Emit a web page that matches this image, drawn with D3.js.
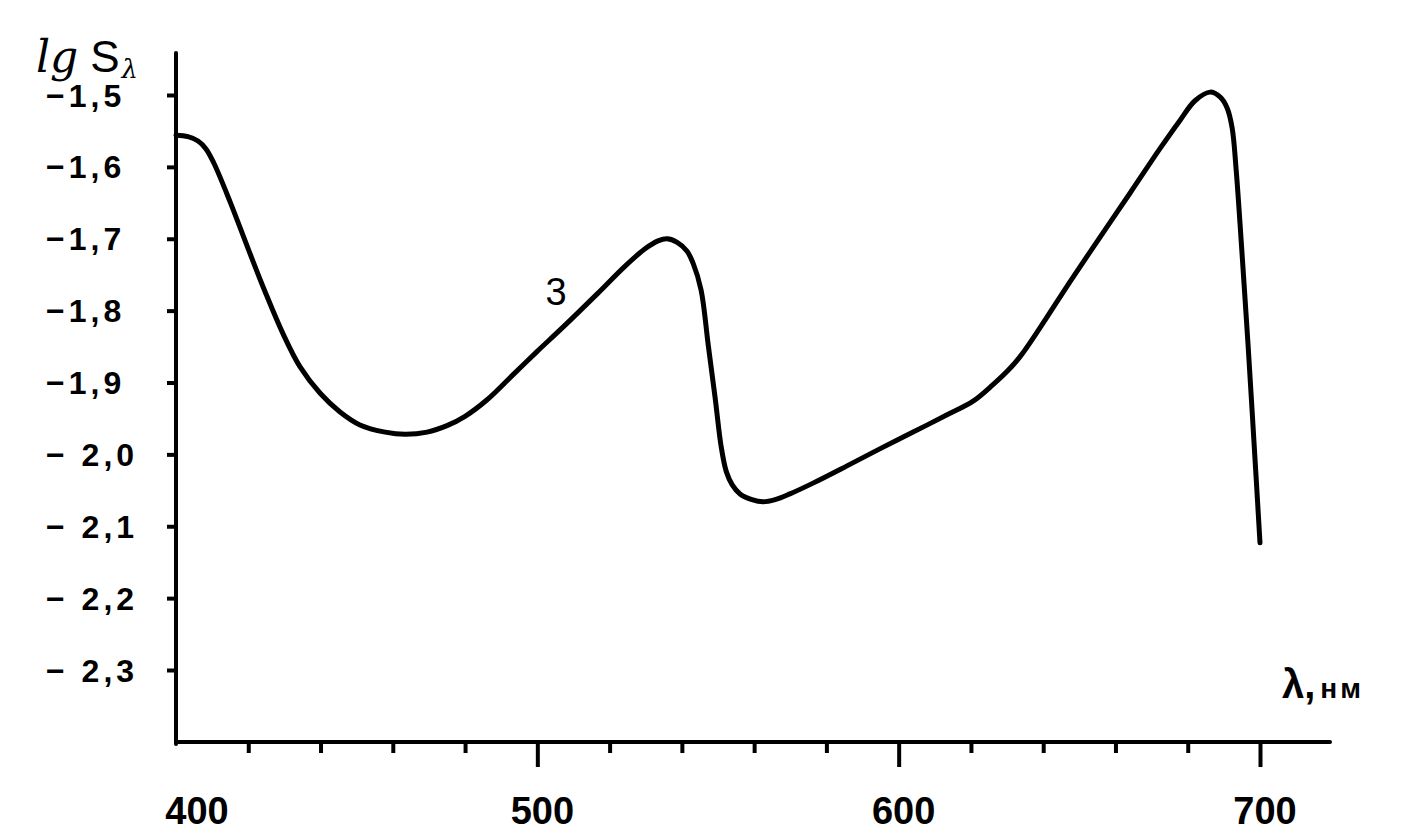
<!DOCTYPE html>
<html>
<head>
<meta charset="utf-8">
<script src="https://cdn.jsdelivr.net/npm/d3@7"></script>
<style>
  html, body { margin: 0; padding: 0; background: #fff; }
  svg { display: block; }
  text { fill: #000; }
</style>
</head>
<body>
<svg id="chart" width="1422" height="839"></svg>
<script>
// ---- data ----
const wavelength = [400.0, 403.3, 406.1, 408.3, 410.5, 415.0, 419.9, 424.6, 429.6, 434.3, 439.9, 445.4, 450.9, 457.9, 463.4, 469.5, 475.0, 480.0, 486.1, 493.3, 499.9, 507.1, 516.5, 524.3, 529.8, 533.4, 535.9, 538.7, 541.4, 543.1, 545.3, 547.3, 549.2, 550.9, 552.3, 553.9, 556.1, 559.4, 562.5, 565.8, 569.9, 576.3, 585.7, 594.9, 604.0, 613.4, 620.6, 626.1, 630.3, 633.6, 639.1, 647.4, 655.7, 664.1, 672.4, 677.9, 682.0, 686.2, 689.0, 690.9, 692.3, 693.4, 694.5, 695.6, 696.7, 697.8, 698.9, 700.0];
const lgS = [-1.556, -1.558, -1.564, -1.575, -1.595, -1.649, -1.713, -1.773, -1.832, -1.878, -1.915, -1.941, -1.959, -1.969, -1.972, -1.969, -1.960, -1.947, -1.924, -1.889, -1.857, -1.823, -1.777, -1.738, -1.714, -1.703, -1.700, -1.705, -1.717, -1.734, -1.771, -1.848, -1.921, -1.990, -2.024, -2.042, -2.055, -2.063, -2.066, -2.063, -2.055, -2.040, -2.016, -1.992, -1.969, -1.945, -1.926, -1.903, -1.883, -1.864, -1.824, -1.760, -1.698, -1.636, -1.574, -1.535, -1.508, -1.496, -1.503, -1.518, -1.546, -1.604, -1.681, -1.764, -1.848, -1.938, -2.030, -2.123];
const yTickValues = [-1.5, -1.6, -1.7, -1.8, -1.9, -2.0, -2.1, -2.2, -2.3];
const yTickLabels = ["−1,5", "−1,6", "−1,7", "−1,8", "−1,9", "− 2,0", "− 2,1", "− 2,2", "− 2,3"];
const xMinorTicks = [420, 440, 460, 480, 520, 540, 560, 580, 620, 640, 660, 680];
const xMajorTicks = [500, 600, 700];
const xTickLabelValues = [400, 500, 600, 700];
const xTickLabels = ["400", "500", "600", "700"];
const curveLabel = "3";
const curveLabelAt = [505.2, -1.792];

// ---- scales ----
const x = d3.scaleLinear().domain([400, 700]).range([176, 1260]);
const y = d3.scaleLinear().domain([-1.5, -2.3]).range([95, 670]);

const svg = d3.select("#chart");
const font = "'Liberation Sans', Arial, sans-serif";

const axisBottomY = 742;
const axisTopY = 53;
const axisRightX = 1330;

// axis lines
svg.append("line")
  .attr("x1", x(400)).attr("x2", x(400))
  .attr("y1", axisTopY).attr("y2", axisBottomY + 2)
  .attr("stroke", "#000").attr("stroke-width", 4).attr("stroke-linecap", "round");
svg.append("line")
  .attr("x1", x(400)).attr("x2", axisRightX)
  .attr("y1", axisBottomY).attr("y2", axisBottomY)
  .attr("stroke", "#000").attr("stroke-width", 4).attr("stroke-linecap", "round");

// x axis ticks via d3 axis generators
const xMinorAxis = d3.axisBottom(x).tickValues(xMinorTicks).tickSize(11).tickFormat("");
const xMajorAxis = d3.axisBottom(x).tickValues(xMajorTicks).tickSize(25).tickFormat("");
[xMinorAxis, xMajorAxis].forEach(ax => {
  const g = svg.append("g").attr("transform", `translate(0,${axisBottomY})`).call(ax);
  g.select(".domain").remove();
  g.selectAll(".tick line").attr("stroke", "#000").attr("stroke-width", 4);
});

// y axis ticks
const yAxis = d3.axisLeft(y).tickValues(yTickValues).tickSize(9).tickFormat("");
const gy = svg.append("g").attr("transform", `translate(${x(400)},0)`).call(yAxis);
gy.select(".domain").remove();
gy.selectAll(".tick line").attr("stroke", "#000").attr("stroke-width", 4);

// y tick labels
svg.append("g").selectAll("text")
  .data(yTickValues)
  .join("text")
  .attr("x", 46)
  .attr("y", d => y(d))
  .attr("dy", "0.36em")
  .attr("font-family", font)
  .attr("font-weight", "bold")
  .attr("font-size", 32)
  .attr("letter-spacing", 4)
  .text((d, i) => yTickLabels[i]);

// x tick labels
svg.append("g").selectAll("text")
  .data(xTickLabelValues)
  .join("text")
  .attr("x", (d, i) => x(d) + (i === 0 ? 21 : 5))
  .attr("y", 824)
  .attr("text-anchor", "middle")
  .attr("font-family", font)
  .attr("font-size", 38)
  .attr("font-weight", "bold")
  .text((d, i) => xTickLabels[i]);

// axis titles
const yt = svg.append("text")
  .attr("x", 36).attr("y", 72)
  .attr("font-family", "'DejaVu Serif', serif");
yt.append("tspan").attr("font-style", "italic").attr("font-size", 44).text("lg");
yt.append("tspan").attr("dx", 12).attr("font-family", font).attr("font-size", 44).text("S");
yt.append("tspan").attr("dy", 6).attr("dx", 2).attr("font-style", "italic").attr("font-size", 26).text("λ");

const xt = svg.append("text")
  .attr("x", 1282).attr("y", 698)
  .attr("font-family", font).attr("font-weight", "bold");
xt.append("tspan").attr("font-size", 40).text("λ,");
xt.append("tspan").attr("font-size", 28).attr("dx", 5).attr("letter-spacing", 3).text("нм");

// curve
const line = d3.line()
  .x(d => x(d[0]))
  .y(d => y(d[1]))
  .curve(d3.curveCatmullRom.alpha(0.5));
svg.append("path")
  .datum(wavelength.map((w, i) => [w, lgS[i]]))
  .attr("d", line)
  .attr("fill", "none")
  .attr("stroke", "#000")
  .attr("stroke-width", 5)
  .attr("stroke-linejoin", "round")
  .attr("stroke-linecap", "round");

// curve label
svg.append("text")
  .attr("x", x(curveLabelAt[0]))
  .attr("y", y(curveLabelAt[1]))
  .attr("text-anchor", "middle")
  .attr("font-family", font)
  .attr("font-size", 38)
  .text(curveLabel);
</script>
</body>
</html>
